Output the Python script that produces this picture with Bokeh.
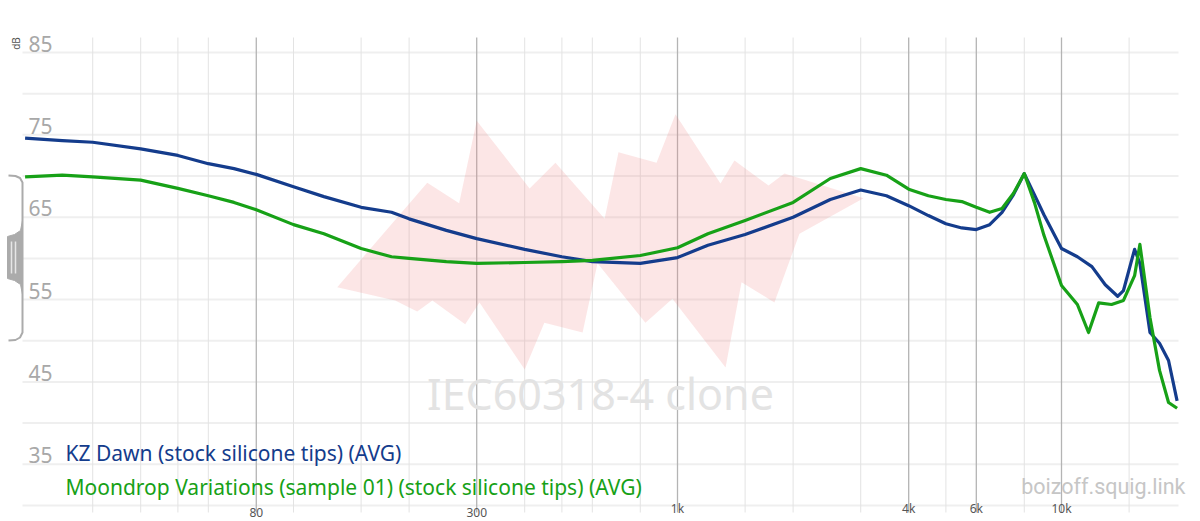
import math
from bokeh.plotting import figure
from bokeh.models import Range1d
from bokeh.core.properties import value
from bokeh.embed import file_html
from bokeh.resources import INLINE

# ---------------- data ----------------
kz_freq = [20, 25, 30, 40, 50, 60, 70, 80, 100, 120, 150, 180, 200, 250, 300, 400, 500, 600, 800,
           1000, 1200, 1500, 2000, 2500, 3000, 3500, 4000, 4500, 5000, 5500, 6000, 6500, 7000, 7500,
           8000, 8500, 9000, 10000, 11000, 12000, 13000, 14000, 14500, 15500, 16000, 17000, 18000,
           19000, 20000]
kz_db = [74.6, 74.3, 74.1, 73.3, 72.5, 71.5, 70.9, 70.2, 68.7, 67.5, 66.2, 65.6, 64.8, 63.4, 62.4,
         61.1, 60.2, 59.6, 59.4, 60.1, 61.6, 62.9, 65.0, 67.15, 68.3, 67.6, 66.4, 65.2, 64.2, 63.7,
         63.5, 64.1, 65.6, 67.75, 70.3, 67.75, 65.3, 61.2, 60.2, 59.0, 56.8, 55.4, 56.1, 61.1, 59.4,
         51.0, 49.7, 47.6, 42.7]

md_freq = [20, 25, 30, 40, 50, 60, 70, 80, 100, 120, 150, 180, 200, 250, 300, 400, 500, 600, 800,
           1000, 1200, 1500, 2000, 2500, 3000, 3500, 4000, 4500, 5000, 5500, 6000, 6500, 7000, 7500,
           8000, 8500, 9000, 10000, 11000, 11760, 12500, 13500, 14500, 15500, 16000, 17000, 18000,
           19000, 20000]
md_db = [69.9, 70.1, 69.9, 69.5, 68.5, 67.6, 66.8, 65.9, 64.1, 63.0, 61.2, 60.2, 60.0, 59.6, 59.4,
         59.5, 59.6, 59.75, 60.35, 61.3, 63.0, 64.6, 66.8, 69.7, 70.9, 70.1, 68.4, 67.6, 67.15, 66.9,
         66.2, 65.6, 66.05, 67.9, 70.3, 66.8, 62.8, 56.7, 54.4, 51.0, 54.6, 54.4, 54.9, 57.9, 61.7,
         52.8, 46.4, 42.5, 41.8]

# target tolerance band (IEC60318-4 clone), upper edge then lower edge
band_upper_freq = [130, 223, 270, 300, 412, 481, 646, 702, 882, 988, 1294, 1407, 1726, 1899, 3051]
band_upper_db = [56.5, 69.2, 66.7, 76.7, 68.5, 71.6, 64.8, 72.9, 71.6, 77.5, 69.1, 71.9, 68.85, 70.3, 67.3]
band_lower_freq = [184, 210, 230, 280, 305, 400, 450, 566, 619, 825, 970, 1334, 1468, 1788, 2078]
band_lower_db = [54.9, 53.55, 54.9, 52.0, 54.65, 46.5, 52.2, 51.0, 59.4, 52.2, 55.1, 46.75, 57.1, 54.65, 63.0]

minor_freqs = [30, 40, 50, 60, 100, 150, 200, 400, 500, 600, 800, 1500, 2000, 3000, 5000, 8000, 15000]
major_freqs = [80, 300, 1000, 4000, 6000, 10000]
major_labels = ["80", "300", "1k", "4k", "6k", "10k"]
db_grid = [30, 35, 40, 45, 50, 55, 60, 65, 70, 75, 80, 85]
db_ticks = [85, 75, 65, 55, 45, 35]

names = ["KZ Dawn (stock silicone tips) (AVG)",
         "Moondrop Variations (sample 01) (stock silicone tips) (AVG)"]
colors = ["#143c8c", "#17a117"]

# ---------------- pixel helpers (layout only) ----------------
def fx(px):
    return 1000 * 10 ** ((px - 677) / 384)

def fy(py):
    return 85 - (py - 52) / 8.236

FONT = value("Noto Sans")

W, H = 1200, 521
p = figure(width=W, height=H, x_axis_type="log",
           x_range=Range1d(fx(0), fx(W)), y_range=Range1d(fy(H), fy(0)),
           output_backend="svg", toolbar_location=None,
           x_axis_location=None, y_axis_location=None, min_border=0)
p.grid.visible = False
p.outline_line_color = None
p.background_fill_color = "white"
p.border_fill_color = "white"

# grid
p.segment(x0=[fx(22)] * len(db_grid), x1=[fx(1178)] * len(db_grid), y0=db_grid, y1=db_grid,
          line_color="#efefef", line_width=2)
p.segment(x0=minor_freqs, x1=minor_freqs, y0=[fy(37)] * len(minor_freqs), y1=[fy(512)] * len(minor_freqs),
          line_color="#e3e3e3", line_width=1)
p.segment(x0=major_freqs, x1=major_freqs, y0=[fy(37)] * len(major_freqs), y1=[fy(512)] * len(major_freqs),
          line_color="#b4b4b4", line_width=1.3)

# target band
p.patch(band_upper_freq + band_lower_freq[::-1], band_upper_db + band_lower_db[::-1],
        fill_color="#f08080", fill_alpha=0.2, line_color=None)

# watermark
p.text(x=[fx(600)], y=[fy(393)], text=["IEC60318-4 clone"], text_align="center",
       text_baseline="middle", text_font_size="43px", text_color="#e3e3e3",
       text_font=FONT)

# curves
p.line(kz_freq, kz_db, line_color=colors[0], line_width=3.2, line_join="round")
p.line(md_freq, md_db, line_color=colors[1], line_width=3.2, line_join="round")

# y tick labels (sit just above their grid line)
p.text(x=[fx(28)] * len(db_ticks), y=db_ticks, text=[str(v) for v in db_ticks],
       text_baseline="middle", y_offset=-9, text_font_size="21px", text_color="#a8a8a8",
       text_font=FONT)
# x tick labels
p.text(x=major_freqs, y=[fy(516)] * len(major_freqs), text=major_labels, text_align="center",
       text_baseline="bottom", text_font_size="12px", text_color="#555555", text_font=FONT)

# dB unit
p.text(x=[fx(15)], y=[fy(43)], text=["dB"], angle=math.pi / 2, text_align="center",
       text_baseline="middle", text_font_size="10px", text_color="#555555", text_font=FONT)

# legend texts
p.text(x=[fx(65), fx(65)], y=[fy(452), fy(486)], text=names, text_baseline="middle",
       text_font_size="21px", text_color=colors, text_font=FONT)

# site label
p.text(x=[fx(1185)], y=[fy(486)], text=["boizoff.squig.link"], text_align="right",
       text_baseline="middle", text_font_size="21.5px", text_color="#c6c6c6", text_font=value("Roboto"))

# bracket handle on the left
bx = [8, 15, 19.5, 22, 22, 22, 19.5, 15, 8]
by = [175, 175.5, 177.5, 182, 257, 332, 337, 339.5, 340]
p.line([fx(v) for v in bx], [fy(v) for v in by], line_color="#ababab", line_width=2, line_join="round")
hx = [22, 20, 14, 7, 7, 14, 20, 22]
hy = [220, 230, 234, 236, 278, 280, 284, 294]
p.patch([fx(v) for v in hx], [fy(v) for v in hy], fill_color="#ababab", line_color="#ababab")
p.segment(x0=[fx(11), fx(15)], x1=[fx(11), fx(15)], y0=[fy(241)] * 2, y1=[fy(273)] * 2,
          line_color="#e6e6e6", line_width=1.5)

open("out.html", "w").write(file_html(p, INLINE))
